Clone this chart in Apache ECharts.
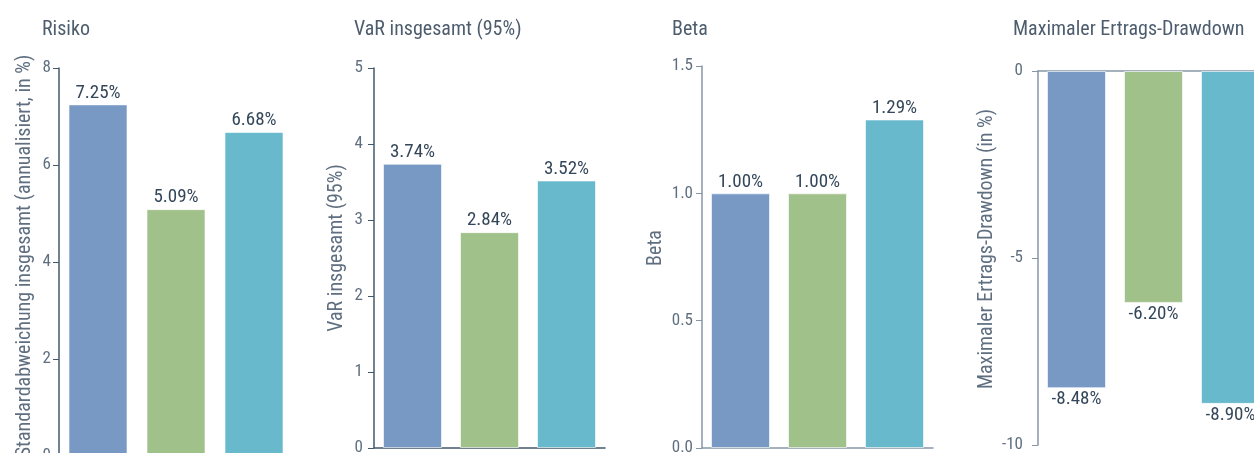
<!DOCTYPE html>
<html>
<head>
<meta charset="utf-8">
<script src="https://cdn.jsdelivr.net/npm/echarts@6/dist/echarts.min.js"></script>
<style>
html,body{margin:0;padding:0;background:#fff;}
#chart{width:1254px;height:453px;}
</style>
</head>
<body>
<div id="chart"></div>
<script>
const categories = ['Serie 1', 'Serie 2', 'Serie 3'];
const barColors = ['#7799c4', '#a1c18b', '#69b9cc'];

const titles = ['Risiko', 'VaR insgesamt (95%)', 'Beta', 'Maximaler Ertrags-Drawdown'];
const axisNames = ['Standardabweichung insgesamt (annualisiert, in %)', 'VaR insgesamt (95%)', 'Beta', 'Maximaler Ertrags-Drawdown (in %)'];

const risiko = [7.25, 5.09, 6.68];
const var95 = [3.74, 2.84, 3.52];
const beta = [1.00, 1.00, 1.29];
const drawdown = [-8.48, -6.20, -8.90];

const FONT = '"Roboto Condensed", "DejaVu Sans Condensed", sans-serif';
const TITLE_C = '#4d5d6e';
const TICK_C = '#5f6f80';
const LABEL_C = '#34475a';

const grids = [
  {left: 59, top: 68, width: 234, height: 388},
  {left: 374, top: 68, width: 231, height: 380},
  {left: 702, top: 66, width: 231, height: 382},
  {left: 1038, top: 71, width: 231, height: 374}
].map(g => Object.assign(g, {containLabel: false, outerBoundsMode: 'none'}));

const yCfg = [
  {min: 0, max: 8, interval: 2, dec: 0, axisColor: '#44586c', margin: 8, gap: 24, pad: [0,0,0,12]},
  {min: 0, max: 5, interval: 1, dec: 0, axisColor: '#44586c', margin: 11, gap: 27, pad: [0,0,0,20]},
  {min: 0, max: 1.5, interval: 0.5, dec: 1, axisColor: '#8796a6', margin: 9, gap: 36, pad: [0,0,0,18]},
  {min: -10, max: 0, interval: 5, dec: 0, axisColor: '#8796a6', margin: 15, gap: 41, pad: [0,0,0,18]}
];
const xAxisColors = ['#44586c', '#44586c', '#8796a6', '#8796a6'];
const titleLefts = [42, 354, 672, 1013];
const seriesData = [risiko, var95, beta, drawdown];

const option = {
  backgroundColor: '#ffffff',
  animation: false,
  title: titles.map((t, i) => ({
    text: t, left: titleLefts[i], top: 20, padding: 0,
    textStyle: {fontFamily: FONT, fontSize: 20, fontWeight: 'normal', color: TITLE_C}
  })),
  grid: grids,
  xAxis: grids.map((g, i) => ({
    type: 'category', gridIndex: i, data: categories,
    axisLine: {lineStyle: {color: xAxisColors[i], width: 1.5}},
    axisTick: {show: false},
    axisLabel: {show: false},
    splitLine: {show: false}
  })),
  yAxis: yCfg.map((c, i) => ({
    type: 'value', gridIndex: i, min: c.min, max: c.max, interval: c.interval,
    name: axisNames[i], nameLocation: 'middle', nameGap: c.gap,
    nameTextStyle: {fontFamily: FONT, fontSize: 20, color: TICK_C, padding: c.pad},
    axisLine: {show: true, lineStyle: {color: c.axisColor, width: 1.5}},
    axisTick: {show: true, length: 6, lineStyle: {color: c.axisColor}},
    axisLabel: {margin: c.margin, fontFamily: FONT, fontSize: 17, color: TICK_C,
      formatter: v => v.toFixed(c.dec)},
    splitLine: {show: false}
  })),
  series: seriesData.map((d, i) => ({
    type: 'bar', xAxisIndex: i, yAxisIndex: i,
    data: d, barWidth: 59,
    itemStyle: {
      color: p => barColors[p.dataIndex],
      borderColor: 'rgba(255,255,255,0.6)', borderWidth: 1
    },
    label: {
      show: true, position: d[0] < 0 ? 'bottom' : 'top', distance: 2,
      fontFamily: FONT, fontSize: 19, fontWeight: 'normal', color: LABEL_C,
      formatter: p => p.value.toFixed(2) + '%'
    }
  }))
};

const chart = echarts.init(document.getElementById('chart'), null, {renderer: 'canvas'});
chart.setOption(option);
</script>
</body>
</html>
